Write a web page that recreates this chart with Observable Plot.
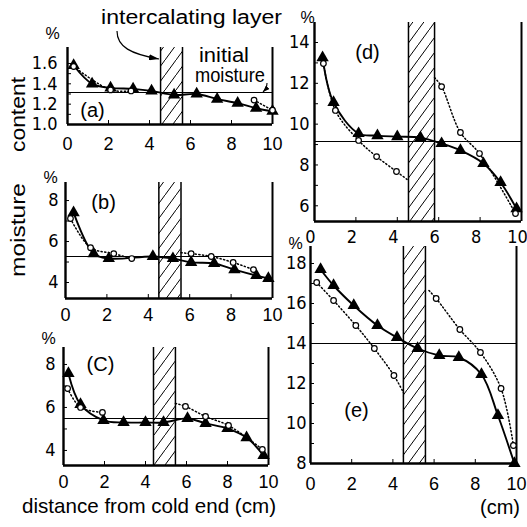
<!DOCTYPE html>
<html><head><meta charset="utf-8">
<script src="https://cdn.jsdelivr.net/npm/d3@7"></script>
<script src="https://cdn.jsdelivr.net/npm/@observablehq/plot@0.6"></script>
<style>
html,body{margin:0;padding:0;background:#fff;}
#fig{position:relative;width:527px;height:527px;overflow:hidden;background:#fff;}
#fig svg{position:absolute;left:0;top:0;}
</style></head><body>
<div id="fig"></div>
<script>
// ---------- data ----------
const xTickLabels = [0, 2, 4, 6, 8, 10];

// panel (a)
const aTri  = [[0.3,1.58],[1.2,1.40],[2.1,1.36],[3.2,1.35],[4.1,1.33],[5.2,1.29],[6.3,1.30],[7.3,1.25],[8.3,1.21],[9.2,1.16],[10,1.13]];
const aCirc = [[0.3,1.57],[2.1,1.34],[3.1,1.33],[9.1,1.24],[10,1.14]];
const aEdge = [null, null];
const aInit = 1.315;
const aLayer = [4.54, 5.61];
const aYTicks = [1.0, 1.2, 1.4, 1.6];
const aYMinor = [1.1, 1.3, 1.5];

// panel (b)
const bTri  = [[0.39,7.41],[1.36,5.41],[2.09,5.17],[4.22,5.27],[5.19,5.17],[6.07,4.98],[7.18,4.93],[8.16,4.63],[9.22,4.34],[9.8,4.2]];
const bCirc = [[0.24,7.12],[1.21,5.7],[2.33,5.41],[3.2,5.17],[6.07,5.41],[7.04,5.27],[8.1,4.98],[9.08,4.63]];
const bEdge = [null, [5.58,5.45]];
const bInit = 5.27;
const bLayer = [4.51, 5.58];
const bYTicks = [4, 6, 8];
const bYMinor = [5, 7];

// panel (c)
const cTri  = [[0.24,7.58],[0.83,6.14],[1.95,5.4],[2.93,5.3],[4.0,5.3],[4.88,5.3],[6.05,5.49],[6.93,5.26],[8.0,5.02],[8.93,4.6],[9.76,3.77]];
const cCirc = [[0.2,6.88],[0.83,6.0],[1.9,5.77],[5.95,6.05],[6.93,5.58],[8.05,5.16],[9.7,4.05]];
const cEdge = [null, [5.46,6.19]];
const cInit = 5.49;
const cLayer = [4.39, 5.46];
const cYTicks = [4, 6, 8];
const cYMinor = [5, 7];

// panel (d)
const dTri  = [[0.39,13.26],[0.92,11.06],[2.13,9.54],[3.04,9.44],[4.0,9.39],[5.12,9.34],[6.14,9.05],[7.05,8.71],[8.16,8.07],[8.99,7.14],[9.76,5.86]];
const dCirc = [[0.43,12.97],[1.01,10.67],[2.13,9.2],[3.0,8.41],[3.96,7.68],[6.14,11.84],[7.05,9.59],[7.97,8.56],[9.71,5.62]];
const dEdge = [[4.54,7.24],[5.8,12.28]];
const dInit = 9.15;
const dLayer = [4.54, 5.8];
const dYTicks = [6, 8, 10, 12, 14];
const dYMinor = [7, 9, 11, 13];

// panel (e)
const eTri  = [[0.49,17.7],[1.12,16.9],[2.1,15.9],[3.25,14.9],[4.2,14.3],[5.2,13.75],[6.25,13.4],[7.2,13.3],[8.3,12.45],[9.1,10.4],[9.9,8.0]];
const eCirc = [[0.3,17.05],[1.12,16.15],[2.2,14.9],[3.1,13.75],[4.05,12.4],[6.1,16.25],[7.25,14.7],[8.25,13.55],[9.25,11.75],[9.85,8.9]];
const eEdge = [[4.51,11.55],[5.75,16.65]];
const eInit = 14.0;
const eLayer = [4.51, 5.58];
const eYTicks = [8, 10, 12, 14, 16, 18];
const eYMinor = [9, 11, 13, 15, 17];

const panelNames = ["(a)", "(b)", "(C)", "(d)", "(e)"];

// ---------- layout ----------
const W = 527, H = 527;
const narrow = "'Liberation Sans Narrow','DejaVu Sans Condensed',sans-serif";
const sans = "'Liberation Sans','DejaVu Sans',sans-serif";

const fig = d3.select("#fig");

// hatch pattern
const pdefs = fig.append("svg").attr("width", 0).attr("height", 0).append("defs");
const pat = pdefs.append("pattern").attr("id", "hatch").attr("patternUnits", "userSpaceOnUse")
  .attr("width", 11).attr("height", 15);
pat.append("path").attr("d", "M-1,16.36 L12,-1.36").attr("stroke", "black").attr("stroke-width", 1).attr("fill", "none");

function panel(p) {
  const {tri, circ, edge, init, layer, yDomain, yTicks, yMinor, fmt, box, name, labelAt, pct, xPad, yPad, xFont, xDx} = p;
  const X = d => d[0], Y = d => d[1];
  const left = circ.filter(d => d[0] < layer[0]);
  const right = circ.filter(d => d[0] > layer[1]);
  if (edge[0]) left.push(edge[0]);
  if (edge[1]) right.unshift(edge[1]);
  return Plot.plot({
    width: W, height: H,
    marginLeft: box.x0, marginRight: W - box.x10, marginTop: box.yTop, marginBottom: H - box.yBot,
    x: {domain: [0, 10]},
    y: {domain: yDomain},
    style: {background: "transparent", overflow: "visible", color: "black"},
    marks: [
      Plot.rect([layer], {x1: d => d[0], x2: d => d[1], y1: yDomain[0], y2: yDomain[1], fill: "url(#hatch)"}),
      Plot.ruleX(layer, {stroke: "black", strokeWidth: 1.5}),
      Plot.ruleY([init], {stroke: "black", strokeWidth: 1.1}),
      Plot.ruleX([0], {stroke: "black", strokeWidth: 2.4}),
      Plot.ruleX([10], {stroke: "black", strokeWidth: 2}),
      Plot.ruleY([yDomain[0]], {stroke: "black", strokeWidth: 2.4}),
      Plot.axisY(yTicks, {tickSize: -4, tickPadding: yPad, tickFormat: fmt, fontSize: 18, fontFamily: narrow, label: null}),
      Plot.axisY(yMinor, {tickSize: -4, fill: "none", label: null}),
      Plot.axisX(xTickLabels, {tickSize: -4, tickPadding: xPad, fontSize: 18, fontFamily: xFont || sans, label: null}),
      Plot.line(left, {x: X, y: Y, curve: "catmull-rom", stroke: "black", strokeWidth: 1.5, strokeDasharray: "1.2,2.4"}),
      Plot.line(right, {x: X, y: Y, curve: "catmull-rom", stroke: "black", strokeWidth: 1.5, strokeDasharray: "1.2,2.4"}),
      Plot.line(tri, {x: X, y: Y, curve: "catmull-rom", stroke: "black", strokeWidth: 1.9}),
      Plot.dot(tri, {x: X, y: Y, symbol: "triangle", r: 4.6, fill: "black"}),
      Plot.dot(circ, {x: X, y: Y, r: 2.8, fill: "white", stroke: "black", strokeWidth: 1.2}),
      Plot.text([name], {x: labelAt[0], y: labelAt[1], fontSize: 20, fontFamily: sans, fill: "black"}),
      Plot.text(["%"], {frameAnchor: "top-left", dx: pct[0], dy: pct[1], textAnchor: "middle", lineAnchor: "middle", fontSize: 16, fontFamily: sans, fill: "black"})
    ].concat(xDx ? [] : [])
  });
}

const panels = [
  {tri: aTri, circ: aCirc, edge: aEdge, init: aInit, layer: aLayer, yDomain: [1.0, 1.757], yTicks: aYTicks, yMinor: aYMinor,
   fmt: d3.format(".1f"), box: {x0: 67, x10: 272, yTop: 47, yBot: 124}, name: panelNames[0], labelAt: [1.22, 1.138], pct: [-15, -14], xPad: 17, yPad: 14},
  {tri: bTri, circ: bCirc, edge: bEdge, init: bInit, layer: bLayer, yDomain: [3.22, 8.88], yTicks: bYTicks, yMinor: bYMinor,
   fmt: d3.format("d"), box: {x0: 65, x10: 272, yTop: 182, yBot: 298}, name: panelNames[1], labelAt: [1.84, 7.9], pct: [-15, -5], xPad: 14, yPad: 11},
  {tri: cTri, circ: cCirc, edge: cEdge, init: cInit, layer: cLayer, yDomain: [3.30, 8.79], yTicks: cYTicks, yMinor: cYMinor,
   fmt: d3.format("d"), box: {x0: 63, x10: 268, yTop: 347, yBot: 465}, name: panelNames[2], labelAt: [1.8, 8.0], pct: [-15, -9], xPad: 14, yPad: 12},
  {tri: dTri, circ: dCirc, edge: dEdge, init: dInit, layer: dLayer, yDomain: [5.23, 14.98], yTicks: dYTicks, yMinor: dYMinor,
   fmt: d3.format("d"), box: {x0: 314, x10: 521, yTop: 22, yBot: 221}, name: panelNames[3], labelAt: [2.56, 13.51], pct: [-7, -5], xPad: 13, yPad: 9, xFont: narrow, xDx: -4},
  {tri: eTri, circ: eCirc, edge: eEdge, init: eInit, layer: eLayer, yDomain: [8.0, 18.85], yTicks: eYTicks, yMinor: eYMinor,
   fmt: d3.format("d"), box: {x0: 310, x10: 516, yTop: 246, yBot: 463}, name: panelNames[4], labelAt: [2.23, 10.65], pct: [-15, -3], xPad: 18, yPad: 8}
];

for (const p of panels) {
  const svg = panel(p);
  if (p.xDx) {
    // nudge the x tick labels of this panel so the last one stays inside the page
    d3.select(svg).selectAll("[aria-label='x-axis tick label'] text").attr("dx", p.xDx);
  }
  document.getElementById("fig").appendChild(svg);
}

// ---------- annotations ----------
const ov = fig.append("svg").attr("width", W).attr("height", H).style("overflow", "visible");
const odefs = ov.append("defs");
odefs.append("marker").attr("id", "arr").attr("viewBox", "0 0 10 6").attr("refX", 10).attr("refY", 3)
  .attr("markerWidth", 10).attr("markerHeight", 6).attr("orient", "auto").attr("markerUnits", "userSpaceOnUse")
  .append("path").attr("d", "M0,0L10,3L0,6Z").attr("fill", "black");
odefs.append("marker").attr("id", "arr2").attr("viewBox", "0 0 8 6").attr("refX", 8).attr("refY", 3)
  .attr("markerWidth", 7).attr("markerHeight", 5).attr("orient", "auto").attr("markerUnits", "userSpaceOnUse")
  .append("path").attr("d", "M0,0L8,3L0,6Z").attr("fill", "black");

ov.append("path").attr("d", "M117,31 C117,47 131,54 159,59").attr("fill", "none")
  .attr("stroke", "black").attr("stroke-width", 1.2).attr("marker-end", "url(#arr)");
ov.append("path").attr("d", "M267,83 C267,87 266,89 263,92").attr("fill", "none")
  .attr("stroke", "black").attr("stroke-width", 1.1).attr("marker-end", "url(#arr2)");

function label(s, x, y, size, len, rot) {
  const t = ov.append("text").text(s).attr("font-family", sans).attr("font-size", size)
    .attr("fill", "black").attr("textLength", len).attr("lengthAdjust", "spacingAndGlyphs");
  if (rot) t.attr("transform", `translate(${x},${y}) rotate(-90)`);
  else t.attr("x", x).attr("y", y);
  return t;
}
label("intercalating layer", 101, 24, 20, 181);
label("initial", 199, 62, 20, 50);
label("moisture", 195, 82, 20, 70);
label("moisture", 25, 277, 20, 94, true);
label("content", 25, 152, 20, 75, true);
label("distance from cold end (cm)", 22, 513, 21, 254);
label("(cm)", 480, 514, 21, 40);
</script>
</body></html>
